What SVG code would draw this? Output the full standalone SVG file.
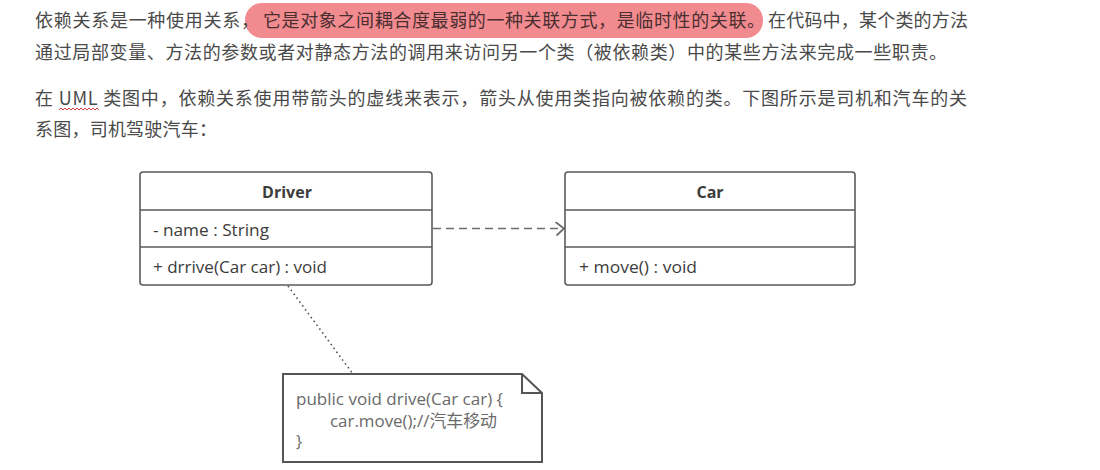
<svg xmlns="http://www.w3.org/2000/svg" width="1100" height="470" viewBox="0 0 1100 470">
  <style>
    .para { font-family: "Noto Sans CJK SC", "Noto Sans", sans-serif; font-size: 18px; fill: #4a4a4a; }
    .hl { fill: #4a2f31; }
    .uml { font-family: "Open Sans", "Noto Sans", "Noto Sans CJK SC", sans-serif; font-size: 16.5px; fill: #3c3c3c; }
    .title { font-weight: bold; text-anchor: middle; font-size: 16px; }
    .note { font-family: "Open Sans", "Noto Sans", "Noto Sans CJK SC", sans-serif; font-size: 16.5px; fill: #6a6a6a; }
    .box { fill: #ffffff; stroke: #5a5a5a; stroke-width: 1.6; }
    .sep { stroke: #5a5a5a; stroke-width: 1.6; }
  </style>
  <defs>
    <marker id="open" markerWidth="12" markerHeight="16" refX="9" refY="7" orient="auto" markerUnits="userSpaceOnUse">
      <path d="M0,0 L9,7 L1.5,14" fill="none" stroke="#6e6e6e" stroke-width="1.8"/>
    </marker>
  </defs>
  <rect width="1100" height="470" fill="#ffffff"/>

  <g id="paragraph">
    <rect x="245" y="3" width="518" height="35" rx="17" fill="#f28b8f"/>
    <text class="para" x="35" y="27" textLength="224" lengthAdjust="spacing">依赖关系是一种使用关系，</text>
    <text class="para hl" x="263" y="27" textLength="502" lengthAdjust="spacing">它是对象之间耦合度最弱的一种关联方式，是临时性的关联。</text>
    <text class="para" x="768" y="27" textLength="200" lengthAdjust="spacing">在代码中，某个类的方法</text>
    <text class="para" x="35" y="59" textLength="912" lengthAdjust="spacing">通过局部变量、方法的参数或者对静态方法的调用来访问另一个类（被依赖类）中的某些方法来完成一些职责。</text>
    <text class="para" x="35" y="105" textLength="932" lengthAdjust="spacing">在 UML 类图中，依赖关系使用带箭头的虚线来表示，箭头从使用类指向被依赖的类。下图所示是司机和汽车的关</text>
    <text class="para" x="35" y="136" textLength="182" lengthAdjust="spacing">系图，司机驾驶汽车：</text>
    <path d="M59,110 l2,-2 l2,2 l2,-2 l2,2 l2,-2 l2,2 l2,-2 l2,2 l2,-2 l2,2 l2,-2 l2,2 l2,-2 l2,2 l2,-2 l2,2 l2,-2 l2,2 l2,-2 l2,2" fill="none" stroke="#d23c3c" stroke-width="1"/>
  </g>

  <g id="connectors">
    <line x1="433" y1="228.5" x2="564" y2="228.5" stroke="#6e6e6e" stroke-width="1.6" stroke-dasharray="8 5" marker-end="url(#open)"/>
    <line x1="288" y1="286" x2="353" y2="374" stroke="#555555" stroke-width="1.6" stroke-dasharray="1.6 3.2"/>
  </g>

  <g id="driver">
    <rect class="box" x="140" y="172" width="292" height="113" rx="3"/>
    <line class="sep" x1="140" y1="210" x2="432" y2="210"/>
    <line class="sep" x1="140" y1="247" x2="432" y2="247"/>
    <text class="uml title" x="287" y="198">Driver</text>
    <text class="uml" x="153" y="236" textLength="116" lengthAdjust="spacingAndGlyphs">- name : String</text>
    <text class="uml" x="153" y="273" textLength="174" lengthAdjust="spacingAndGlyphs">+ drrive(Car car) : void</text>
  </g>

  <g id="car">
    <rect class="box" x="565" y="172" width="290" height="113" rx="3"/>
    <line class="sep" x1="565" y1="210" x2="855" y2="210"/>
    <line class="sep" x1="565" y1="247" x2="855" y2="247"/>
    <text class="uml title" x="710" y="198">Car</text>
    <text class="uml" x="579" y="273" textLength="118" lengthAdjust="spacingAndGlyphs">+ move() : void</text>
  </g>

  <g id="note">
    <path d="M283,374 L522,374 L542,393 L542,462 L283,462 Z" fill="#ffffff" stroke="#555555" stroke-width="2"/>
    <path d="M522,374 L522,393 L542,393" fill="none" stroke="#555555" stroke-width="2"/>
    <text class="note" x="296" y="405" textLength="207" lengthAdjust="spacingAndGlyphs">public void drive(Car car) {</text>
    <text class="note" x="330" y="427" textLength="167" lengthAdjust="spacingAndGlyphs">car.move();//汽车移动</text>
    <text class="note" x="296" y="447">}</text>
  </g>
</svg>
